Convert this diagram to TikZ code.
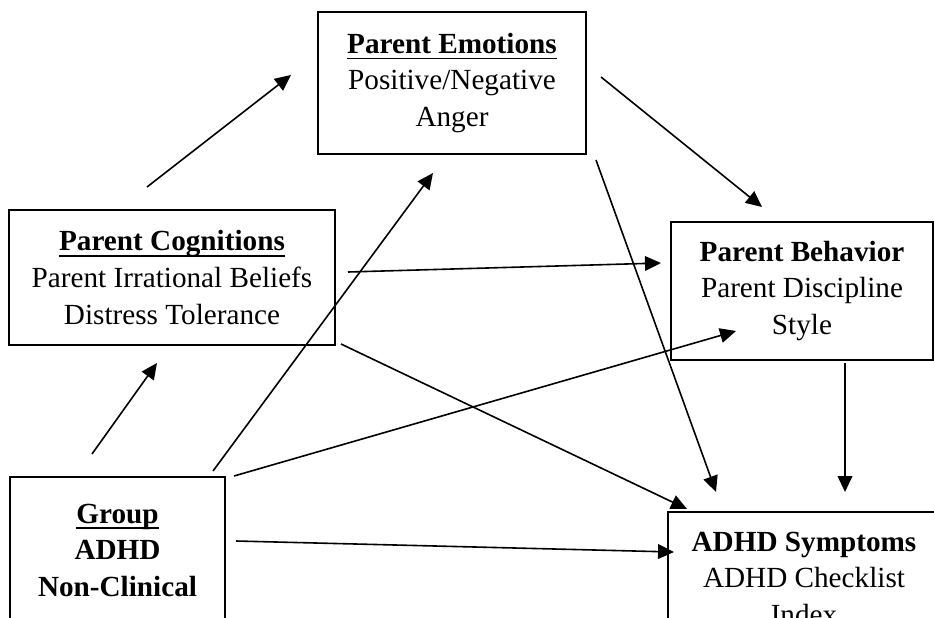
\documentclass[tikz,border=0pt]{standalone}
\usepackage{fontspec}
\setmainfont{Liberation Serif}
\usetikzlibrary{arrows.meta}

% underline at a fixed depth below the baseline
\newcommand{\ulabel}[1]{\setbox0\hbox{#1}\rlap{\rule[-4.3pt]{\wd0}{1.2pt}}\box0}

\begin{document}
\begin{tikzpicture}[x=0.75pt,y=-0.75pt,
		box node/.style={rectangle,draw,line width=1.5pt,align=center,inner sep=0pt,
			font={\fontsize{21.9pt}{27.4pt}\selectfont}},
		path arrow/.style={draw,line width=1.2pt,-{Triangle[length=12pt,width=11pt]}}]
	
	\useasboundingbox (0,0) rectangle (934,617);
	\clip (0,0) rectangle (934,617);
	
	\node[box node,minimum width=201pt,minimum height=106.5pt] (emo) at (452,83)
		{\ulabel{\textbf{Parent Emotions}}\\Positive/Negative\\Anger};
	\node[box node,minimum width=244.5pt,minimum height=101.25pt] (cog) at (172,277.5)
		{\ulabel{\textbf{Parent Cognitions}}\\Parent Irrational Beliefs\\Distress Tolerance};
	\node[box node,minimum width=196.5pt,minimum height=103.5pt] (beh) at (802,291)
		{\textbf{Parent Behavior}\\Parent Discipline\\Style};
	\node[box node,minimum width=161.25pt,minimum height=109.5pt] (grp) at (117.5,550)
		{\ulabel{\textbf{Group}}\\\textbf{ADHD}\\\textbf{Non-Clinical}};
	\node[box node,minimum width=204pt,minimum height=99pt] (sym) at (804,578)
		{\textbf{ADHD Symptoms}\\ADHD Checklist\\Index};
	
	\path[every edge/.style=path arrow]
	([shift={(-25,-22)}]cog.north) edge ([shift={(-26,-8)}]emo.west)
	([shift={(14,-6)}]emo.east) edge ([shift={(-40,-14)}]beh.north)
	([shift={(9,5)}]emo.south east) edge ([shift={(49,-19)}]sym.north west)
	([shift={(12,-5.5)}]cog.east) edge ([shift={(-9,-28)}]beh.west)
	([shift={(5,-2)}]cog.south east) edge ([shift={(20,-2)}]sym.north west)
	([shift={(-25.5,-22)}]grp.north) edge ([shift={(-15,17)}]cog.south)
	([shift={(-13,-5)}]grp.north east) edge ([shift={(-19,18)}]emo.south)
	([shift={(8,0)}]grp.north east) edge ([shift={(66,-30)}]beh.south west)
	([shift={(10,-9)}]grp.east) edge ([shift={(7,-26)}]sym.west)
	([shift={(43,2)}]beh.south) edge ([shift={(41,-19)}]sym.north);
\end{tikzpicture}
\end{document}
